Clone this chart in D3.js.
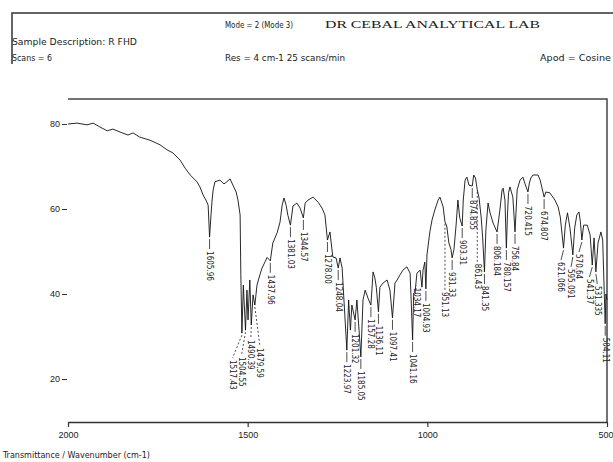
<!DOCTYPE html>
<html>
<head>
<meta charset="utf-8">
<script src="https://cdn.jsdelivr.net/npm/d3@7"></script>
<style>
  html, body { margin: 0; padding: 0; background: #fff; }
  svg { display: block; font-family: "Liberation Sans Narrow", "DejaVu Sans Condensed", sans-serif; }
  .hdr { font-size: 9px; fill: #222; }
  .lab { font-size: 8px; fill: #222; }
  .tick text { font-size: 9px; fill: #222; }
</style>
</head>
<body>
<svg id="chart" width="613" height="462"></svg>
<script>
"use strict";

// Spectrum: wavenumber (cm-1) and %T
const wavenumbers = [
  2000, 1975, 1947, 1930, 1911, 1891, 1875, 1855, 1833, 1819, 1800, 1772, 1744, 1724, 1708,
  1688, 1674, 1660, 1641, 1633, 1624, 1616, 1610, 1606, 1602, 1599, 1596, 1591, 1577, 1566,
  1558, 1549, 1541, 1532, 1527, 1521, 1519, 1516, 1512, 1506, 1502, 1499, 1494, 1490, 1485,
  1480, 1474, 1466, 1460, 1452, 1446, 1437, 1430, 1418, 1410, 1404, 1399, 1393, 1388, 1381,
  1374, 1363, 1354, 1345, 1340, 1332, 1318, 1304, 1293, 1285, 1278, 1271, 1263, 1254, 1248,
  1243, 1237, 1233, 1224, 1219, 1214, 1210, 1201, 1196, 1190, 1185, 1179, 1173, 1165, 1157,
  1151, 1146, 1142, 1136, 1132, 1123, 1112, 1104, 1097, 1090, 1084, 1076, 1068, 1057, 1048,
  1045, 1041, 1038, 1034, 1029, 1020, 1015, 1012, 1007, 1004, 1001, 993, 987, 979, 970,
  965, 956, 951, 946, 940, 934, 931, 926, 920, 915, 910, 903, 900, 895, 890,
  884, 875, 871, 866, 861, 856, 850, 846, 841, 837, 831, 826, 817, 806, 803,
  798, 792, 789, 784, 780, 777, 774, 770, 762, 756, 750, 742, 734, 728, 720,
  716, 712, 706, 692, 686, 681, 675, 670, 659, 645, 636, 630, 621, 616, 610,
  603, 595, 590, 584, 578, 574, 570, 565, 555, 547, 541, 536, 531, 525, 517,
  512, 505, 503, 500
];
const transmittance = [
  80.0, 80.2, 79.8, 80.2, 79.3, 78.4, 78.8, 78.1, 77.4, 77.9, 76.9, 76.2, 75.1, 73.9, 73.2,
  71.5, 69.6, 68.0, 66.4, 65.2, 63.3, 62.1, 60.9, 53.4, 58.6, 62.1, 64.5, 66.4, 66.8, 65.9,
  66.4, 67.1, 65.6, 64.0, 62.1, 58.6, 44.5, 30.8, 42.1, 31.5, 40.9, 33.9, 43.3, 32.7, 39.8,
  37.4, 42.1, 44.5, 46.1, 47.5, 48.6, 47.8, 52.0, 54.4, 56.9, 60.9, 62.6, 60.9, 58.5, 56.2,
  60.7, 61.4, 60.2, 57.9, 61.4, 62.1, 62.8, 61.6, 60.2, 58.6, 52.7, 54.6, 48.7, 48.5, 46.1,
  48.5, 46.1, 40.0, 26.8, 38.6, 31.5, 37.4, 33.9, 38.6, 31.5, 25.2, 38.6, 40.9, 39.0, 37.4,
  45.2, 43.8, 41.6, 35.8, 41.6, 42.6, 43.3, 40.9, 34.4, 42.6, 43.3, 44.5, 45.6, 46.4, 44.9,
  38.6, 29.2, 40.2, 40.5, 44.9, 45.6, 41.6, 45.6, 47.5, 41.2, 49.2, 54.6, 57.4, 59.8, 62.1,
  62.8, 60.5, 57.0, 56.0, 52.0, 50.4, 48.5, 50.4, 56.2, 62.1, 58.0, 56.0, 62.1, 66.8, 67.5,
  65.6, 65.4, 68.0, 67.3, 64.5, 62.6, 57.9, 53.2, 45.2, 55.1, 61.4, 59.3, 56.7, 54.6, 56.5,
  59.8, 64.5, 64.9, 62.1, 50.8, 58.6, 63.8, 65.2, 62.8, 54.6, 64.5, 66.8, 67.5, 65.9, 64.0,
  66.1, 67.3, 68.0, 68.0, 66.8, 65.0, 62.8, 64.0, 63.8, 62.1, 60.5, 58.1, 50.8, 56.2, 59.1,
  55.5, 49.2, 55.5, 58.6, 59.3, 56.9, 52.7, 56.2, 56.2, 53.9, 46.8, 53.2, 45.2, 52.0, 54.6,
  52.7, 33.0, 40.0, 38.6
];

// Peak picks: position, %T at the minimum, printed label
const peakWn = [1606, 1516, 1506, 1490, 1480, 1437, 1381, 1345, 1278, 1248, 1224, 1201, 1185,
  1157, 1136, 1097, 1041, 1034, 1004, 951, 931, 903, 875, 861, 841, 806, 780, 756, 720, 675,
  621, 595, 570, 541, 531, 505];
const peakT = [53.4, 30.8, 31.5, 32.7, 37.4, 47.8, 56.2, 57.9, 52.7, 46.1, 26.8, 33.9, 25.2,
  37.4, 35.8, 34.4, 29.2, 40.5, 41.2, 57.0, 48.5, 56.0, 65.4, 64.5, 45.2, 54.6, 50.8, 54.6,
  64.0, 62.8, 50.8, 49.2, 52.7, 46.8, 45.2, 33.0];
const peakLabels = ["1605.96", "1517.43", "1504.55", "1490.39", "1479.59", "1437.96", "1381.03",
  "1344.57", "1278.00", "1248.04", "1223.97", "1201.32", "1185.05", "1157.28", "1136.11",
  "1097.41", "1041.16", "1034.17", "1004.93", "951.13", "931.33", "903.31", "874.855", "861.43",
  "841.35", "806.184", "780.157", "756.84", "720.415", "674.807", "621.066", "595.091", "570.64",
  "541.37", "531.335", "504.11"];
// where crowded labels were pushed to (wavenumber, %T); null = directly under the peak
const labelWn = [null, 1542, 1517, 1491, 1466, null, null, null, null, null, null, null, null,
  null, null, null, null, 1030, null, null, null, null, null, null, null, null, null, null,
  null, null, 628, 600, 578, 549, 527, null];
const labelT = [null, 24.5, 25.2, 29.2, 27.3, null, null, null, null, null, null, null, null,
  null, null, null, null, 41.5, null, 40.5, null, null, null, 47.1, null, null, null, null,
  null, null, null, null, null, null, null, null];

const xTicks = [2000, 1500, 1000, 500];
const yTicks = [80, 60, 40, 20];

const headerLines = [
  { text: "Mode = 2 (Mode 3)", x: 225, y: 28, w: 68 },
  { text: "Sample Description: R FHD", x: 12, y: 45, w: 125 },
  { text: "Scans = 6", x: 12, y: 61, w: 40 },
  { text: "Res = 4 cm-1   25 scans/min", x: 225, y: 61, w: 120 },
  { text: "Apod = Cosine", x: 540, y: 61, w: 71 }
];

const svg = d3.select("#chart");
const plot = { left: 68, right: 607, top: 99, bottom: 422 };

const x = d3.scaleLinear().domain([2000, 500]).range([plot.left, plot.right]);
const y = d3.scaleLinear().domain([20, 80]).range([379, 124]);

// header box
svg.append("path")
  .attr("d", "M12,64 V13 H613")
  .attr("fill", "none")
  .attr("stroke", "#333")
  .attr("stroke-width", 1.5);

svg.selectAll("text.hdr")
  .data(headerLines)
  .enter().append("text")
    .attr("class", "hdr")
    .attr("x", d => d.x)
    .attr("y", d => d.y)
    .attr("textLength", d => d.w)
    .attr("lengthAdjust", "spacingAndGlyphs")
    .text(d => d.text);

svg.append("text")
  .attr("x", 325).attr("y", 28)
  .attr("textLength", 215)
  .attr("lengthAdjust", "spacingAndGlyphs")
  .style("font-family", "'Liberation Serif', serif")
  .style("font-size", "11px")
  .attr("fill", "#222")
  .text("DR CEBAL ANALYTICAL LAB");

// frame: top and right
svg.append("path")
  .attr("d", `M${plot.left},${plot.top} H${plot.right} V${plot.bottom}`)
  .attr("fill", "none")
  .attr("stroke", "#444")
  .attr("stroke-width", 1.5);

// x axis
const xAxis = svg.append("g")
  .attr("transform", `translate(0,${plot.bottom})`)
  .call(d3.axisBottom(x).tickValues(xTicks).tickSize(5).tickSizeOuter(0).tickFormat(d3.format("d")));
xAxis.select(".domain").attr("stroke", "#333").attr("stroke-width", 1.6);
xAxis.selectAll(".tick line").attr("stroke", "#333").attr("stroke-width", 1.2);
xAxis.selectAll(".tick text").attr("dy", "0.9em");
// last label would run off the page: keep it inside
xAxis.selectAll(".tick text").filter(d => d === 500)
  .attr("text-anchor", "end").attr("x", 6);

// y axis (ticks only)
const yAxis = svg.append("g")
  .attr("transform", `translate(${plot.left - 1},0)`)
  .call(d3.axisLeft(y).tickValues(yTicks).tickSize(5).tickPadding(2));
yAxis.select(".domain").remove();
yAxis.selectAll(".tick line").attr("stroke", "#333");

// spectrum
const pts = wavenumbers.map((w, i) => [w, transmittance[i]]);
svg.append("path")
  .datum(pts)
  .attr("fill", "none")
  .attr("stroke", "#111")
  .attr("stroke-width", 0.9)
  .attr("d", d3.line().x(d => x(d[0])).y(d => y(d[1])));

// peak labels
const peaks = peakWn.map((w, i) => ({
  wn: w, t: peakT[i], text: peakLabels[i],
  lw: labelWn[i] == null ? w : labelWn[i],
  lt: labelT[i]
}));

const g = svg.append("g");
peaks.forEach(p => {
  const px = x(p.wn), py = y(p.t) + 2;
  const lx = x(p.lw);
  const top = p.lt == null ? y(p.t) + 14 : y(p.lt);
  g.append("line")
    .attr("x1", px).attr("y1", py)
    .attr("x2", lx).attr("y2", top - 2)
    .attr("stroke", "#222")
    .attr("stroke-width", 0.8)
    .attr("stroke-dasharray", p.lt == null ? null : "2,2");
  g.append("text")
    .attr("class", "lab")
    .attr("transform", `translate(${lx},${top}) rotate(90)`)
    .attr("dy", "0.33em")
    .text(p.text);
});

// footer
svg.append("text")
  .attr("class", "hdr")
  .attr("x", 3).attr("y", 458)
  .attr("textLength", 147)
  .attr("lengthAdjust", "spacingAndGlyphs")
  .style("font-size", "8px")
  .text("Transmittance / Wavenumber (cm-1)");
</script>
</body>
</html>
